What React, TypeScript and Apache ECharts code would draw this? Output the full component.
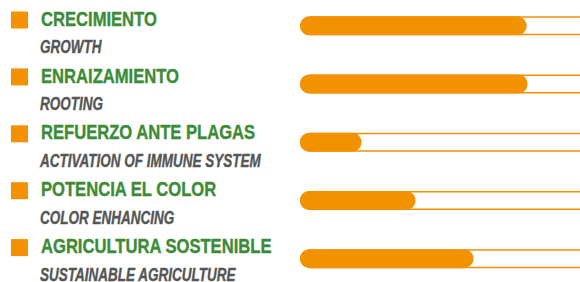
import React, { useEffect, useRef } from "react";
import * as echarts from "echarts";

const titles = [
  "CRECIMIENTO",
  "ENRAIZAMIENTO",
  "REFUERZO ANTE PLAGAS",
  "POTENCIA EL COLOR",
  "AGRICULTURA SOSTENIBLE",
];
const subtitles = [
  "GROWTH",
  "ROOTING",
  "ACTIVATION OF IMMUNE SYSTEM",
  "COLOR ENHANCING",
  "SUSTAINABLE AGRICULTURE",
];
const values = [81, 81.3, 22, 41.3, 62];
const axisMax = 110;
const trackValue = 110;

const ORANGE = "#f39200";
const GREEN = "#3d8b37";
const GRAY = "#555555";

const OFF_Y = 20;
const CW = 640;
const CH = 320;

export default function App() {
  const ref = useRef<HTMLDivElement>(null);
  useEffect(() => {
    document.body.style.margin = "0";
    if (!ref.current) return;
    const chart = echarts.init(ref.current, null, { renderer: "svg" });
    const rowStart = 18.5 + OFF_Y;
    const rowStep = 56.9;
    const graphics: any[] = [];
    titles.forEach((t, i) => {
      const cy = rowStart + rowStep * i;
      graphics.push({
        type: "rect",
        shape: { x: 11, y: cy - 7, width: 17, height: 17 },
        style: { fill: ORANGE },
      });
      graphics.push({
        type: "text",
        x: 41,
        y: cy,
        scaleX: 0.81,
        style: {
          text: t,
          x: 0,
          y: 0,
          fill: GREEN,
          stroke: GREEN,
          lineWidth: 0.4,
          font: "bold 20.5px 'Liberation Sans', Arial, sans-serif",
          lineHeight: 16,
          textAlign: "left",
          textVerticalAlign: "middle",
        },
      });
      graphics.push({
        type: "text",
        x: 40,
        y: cy + 28,
        scaleX: 0.73,
        style: {
          text: subtitles[i],
          x: 0,
          y: 0,
          fill: GRAY,
          stroke: GRAY,
          lineWidth: 0.4,
          font: "italic bold 18.5px 'Liberation Sans', Arial, sans-serif",
          lineHeight: 12,
          textAlign: "left",
          textVerticalAlign: "middle",
        },
      });
    });

    // category band 58.2px, first centre at y=25.85 (page coords)
    const gridTop = 25.85 + OFF_Y - 29.1;
    const gridHeight = 58.2 * 5;
    chart.setOption({
      animation: false,
      grid: {
        left: 300,
        right: CW - 608,
        top: gridTop,
        bottom: CH - gridTop - gridHeight,
      },
      xAxis: { type: "value", min: 0, max: axisMax, show: false },
      yAxis: {
        type: "category",
        data: titles,
        inverse: true,
        show: false,
      },
      series: [
        {
          type: "bar",
          data: values.map(() => trackValue),
          barWidth: 19,
          barGap: "-100%",
          silent: true,
          itemStyle: {
            color: "#ffffff",
            borderColor: ORANGE,
            borderWidth: 1.5,
            borderRadius: 10,
          },
        },
        {
          type: "bar",
          data: values,
          barWidth: 19,
          barGap: "-100%",
          itemStyle: { color: ORANGE, borderRadius: 10 },
        },
      ],
      graphic: graphics,
    });
    return () => chart.dispose();
  }, []);
  return (
    <div style={{ position: "relative", width: 580, height: 282, overflow: "hidden" }}>
      <div
        ref={ref}
        style={{ position: "absolute", left: 0, top: -OFF_Y, width: CW, height: CH }}
      />
    </div>
  );
}
